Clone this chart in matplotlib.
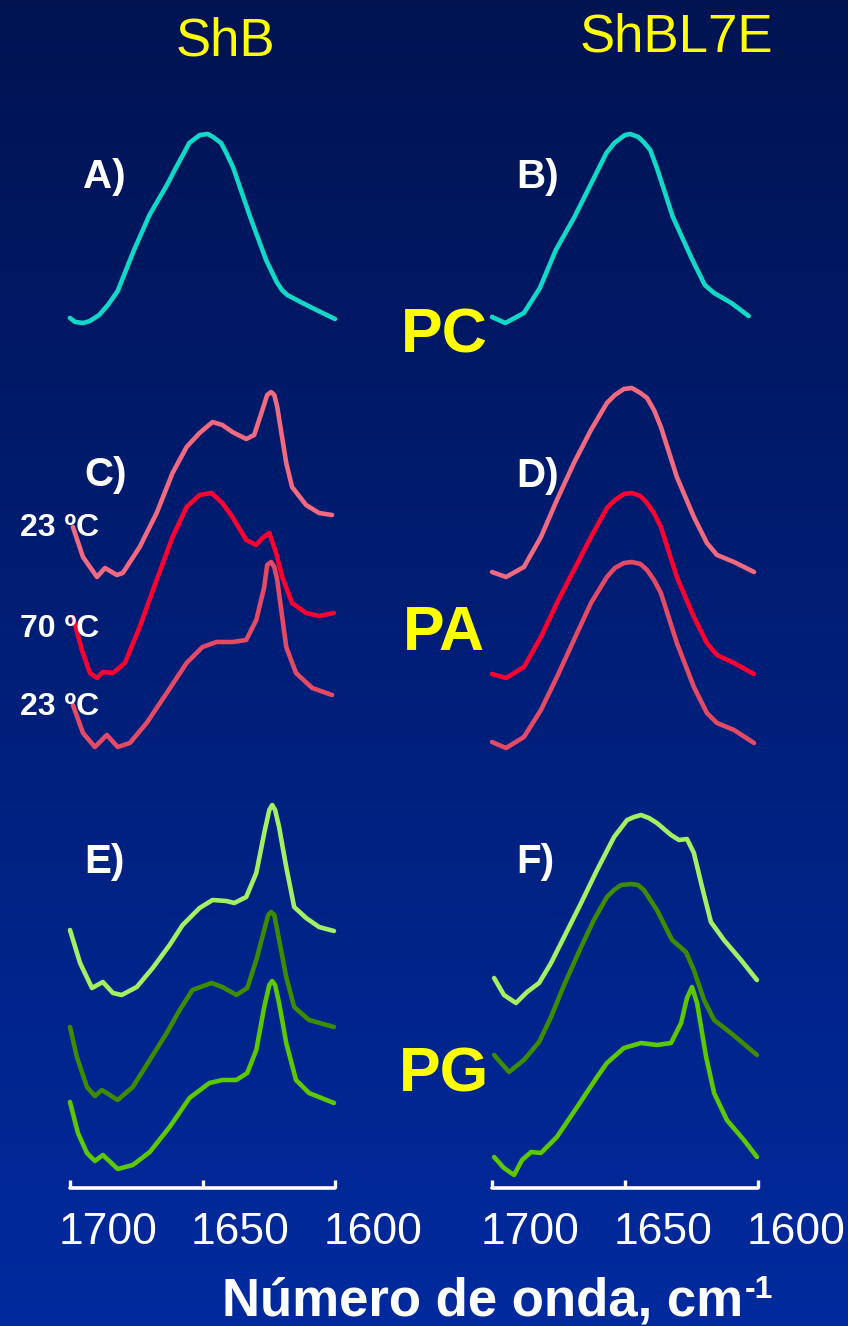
import numpy as np
import matplotlib
matplotlib.use("Agg")
import matplotlib.pyplot as plt
import matplotlib.transforms as mtransforms

W, H = 848, 1326

# --- datos (numero de onda, absorbancia relativa) ---
# A) ShB en PC
wn_A = [1700, 1698, 1695, 1692.5, 1689, 1685.7, 1682, 1676, 1670, 1663, 1660.5, 1657, 1655, 1651, 1648,
        1646, 1643, 1641, 1638.5, 1632, 1626, 1622, 1620, 1618, 1613, 1607, 1600]
ab_A = [0.05, 0.01, 0, 0.02, 0.08, 0.18, 0.32, 0.72, 1.08, 1.40, 1.53, 1.70, 1.80, 1.88, 1.89,
        1.86, 1.80, 1.70, 1.56, 1.06, 0.63, 0.41, 0.33, 0.28, 0.21, 0.13, 0.04]
# B) ShBL7E en PC
wn_B = [1700, 1695, 1688, 1682, 1676, 1669, 1663, 1657, 1654, 1650, 1648, 1645, 1643, 1640.5, 1638,
        1632, 1625, 1620, 1616.5, 1610, 1603.5]
ab_B = [0.06, 0, 0.10, 0.35, 0.73, 1.06, 1.38, 1.70, 1.80, 1.88, 1.89, 1.86, 1.81, 1.73, 1.55,
        1.06, 0.65, 0.38, 0.30, 0.20, 0.07]

# C) ShB en PA: 23 C, 70 C, 23 C
wn_C1 = [1698.9, 1695.1, 1689.8, 1686.8, 1682.3, 1680.1, 1673.7, 1667.3, 1661.3, 1656.0, 1651.1, 1646.2,
         1642.5, 1638.7, 1633.5, 1630.5, 1627.4, 1625.6, 1624.1, 1622.9, 1621.8, 1618.4, 1616.2, 1610.9,
         1606.0, 1601.1]
ab_C1 = [0.50, 0.20, 0, 0.09, 0.02, 0.04, 0.30, 0.64, 1.04, 1.30, 1.44, 1.55,
         1.52, 1.45, 1.38, 1.42, 1.67, 1.82, 1.85, 1.82, 1.70, 1.14, 0.90, 0.72,
         0.64, 0.62]
wn_C2 = [1698.9, 1695.5, 1692.5, 1689.8, 1687.6, 1683.8, 1679.3, 1673.7, 1667.3, 1661.3, 1656.0, 1651.1,
         1646.6, 1642.5, 1638.7, 1633.5, 1629.7, 1627.4, 1624.8, 1622.2, 1619.9, 1616.2, 1610.9, 1606.0,
         1600.4]
ab_C2 = [0.61, 0.28, 0.05, 0, 0.06, 0.05, 0.15, 0.51, 0.98, 1.41, 1.71, 1.83,
         1.85, 1.75, 1.61, 1.38, 1.33, 1.40, 1.45, 1.25, 1.01, 0.75, 0.65, 0.62,
         0.65]
wn_C3 = [1698.9, 1695.1, 1690.6, 1686.1, 1682.0, 1677.4, 1671.1, 1663.5, 1656.0, 1650.0, 1644.7, 1638.7,
         1633.5, 1629.7, 1626.7, 1625.6, 1624.1, 1622.9, 1621.8, 1618.4, 1614.7, 1608.6, 1601.1]
ab_C3 = [0.42, 0.14, 0, 0.12, 0, 0.04, 0.24, 0.54, 0.84, 1.00, 1.05, 1.05,
         1.07, 1.27, 1.60, 1.82, 1.85, 1.80, 1.67, 1.00, 0.74, 0.59, 0.52]

# D) ShBL7E en PA
wn_D = [1700, 1694.7, 1688.0, 1681.6, 1675.6, 1669.2, 1662.8, 1656.8, 1653.8, 1650.4, 1647.4, 1644.2,
        1641.7, 1639.1, 1636.5, 1630.5, 1624.1, 1619.2, 1615.4, 1609.0, 1601.5]
ab_D1 = [0.05, 0, 0.10, 0.40, 0.77, 1.14, 1.47, 1.74, 1.82, 1.88, 1.89, 1.84,
         1.79, 1.67, 1.50, 1.00, 0.60, 0.34, 0.22, 0.15, 0.05]
ab_D2 = [0.04, 0, 0.11, 0.41, 0.75, 1.08, 1.41, 1.70, 1.78, 1.84, 1.85, 1.82,
         1.75, 1.65, 1.51, 1.01, 0.61, 0.35, 0.23, 0.15, 0.04]
ab_D3 = [0.06, 0, 0.11, 0.38, 0.71, 1.08, 1.45, 1.71, 1.80, 1.85, 1.86, 1.84,
         1.78, 1.68, 1.55, 1.05, 0.61, 0.35, 0.25, 0.18, 0.05]

# E) ShB en PG
wn_E1 = [1700, 1696.2, 1691.7, 1687.6, 1683.8, 1680.5, 1674.8, 1668.8, 1662.4, 1657.5, 1651.1, 1646.2,
         1641.0, 1638.0, 1633.5, 1629.7, 1626.7, 1624.8, 1623.7, 1622.6, 1621.1, 1618.4, 1615.4, 1610.9,
         1606.0, 1600.4]
ab_E1 = [0.65, 0.32, 0.07, 0.13, 0.02, 0, 0.08, 0.27, 0.50, 0.70, 0.87, 0.95,
         0.94, 0.92, 0.98, 1.22, 1.62, 1.85, 1.90, 1.85, 1.68, 1.28, 0.88, 0.77,
         0.68, 0.64]
wn_E2 = [1700, 1697.4, 1693.6, 1690.6, 1688.0, 1682.0, 1676.3, 1669.9, 1663.5, 1658.6, 1653.8, 1646.6,
         1642.5, 1637.2, 1633.1, 1629.7, 1626.7, 1625.2, 1624.1, 1622.9, 1621.8, 1618.4, 1615.4, 1609.8,
         1600.4]
ab_E2 = [0.73, 0.43, 0.13, 0.04, 0.10, 0, 0.13, 0.40, 0.67, 0.90, 1.10, 1.17,
         1.13, 1.05, 1.12, 1.40, 1.70, 1.85, 1.88, 1.85, 1.70, 1.23, 0.93, 0.80,
         0.73]
wn_E3 = [1700, 1697.0, 1693.6, 1690.6, 1687.6, 1682.0, 1676.3, 1669.9, 1662.4, 1654.9, 1647.4, 1642.5,
         1637.2, 1633.1, 1629.7, 1626.7, 1624.8, 1623.7, 1622.6, 1621.1, 1618.4, 1614.7, 1609.8, 1600.4]
ab_E3 = [0.67, 0.36, 0.16, 0.08, 0.14, 0, 0.04, 0.17, 0.42, 0.71, 0.86, 0.89,
         0.89, 0.96, 1.19, 1.62, 1.84, 1.88, 1.84, 1.66, 1.26, 0.89, 0.76, 0.66]

# F) ShBL7E en PG
wn_F1 = [1699.2, 1695.5, 1691.0, 1686.8, 1682.3, 1677.8, 1672.9, 1666.5, 1660.5, 1654.1, 1649.2, 1646.6,
         1644.0, 1641.0, 1638.0, 1632.7, 1629.7, 1626.7, 1624.1, 1621.4, 1617.7, 1612.8, 1606.4, 1600.4]
ab_F1 = [0.25, 0.08, 0, 0.11, 0.20, 0.40, 0.66, 1.00, 1.33, 1.66, 1.83, 1.86,
         1.88, 1.85, 1.80, 1.68, 1.63, 1.64, 1.50, 1.20, 0.81, 0.63, 0.43, 0.23]
wn_F2 = [1699.2, 1693.6, 1688.0, 1682.3, 1677.8, 1672.9, 1666.5, 1661.7, 1656.8, 1654.1, 1651.5, 1647.7,
         1645.1, 1642.9, 1638.0, 1632.3, 1627.1, 1624.1, 1620.3, 1616.5, 1610.2, 1600.4]
ab_F2 = [0.17, 0, 0.12, 0.30, 0.55, 0.87, 1.25, 1.52, 1.75, 1.82, 1.87, 1.88,
         1.87, 1.82, 1.62, 1.32, 1.20, 1.02, 0.72, 0.52, 0.39, 0.17]
wn_F3 = [1699.2, 1695.5, 1691.7, 1688.7, 1685.3, 1681.6, 1675.6, 1668.0, 1660.5, 1656.8, 1650.4, 1644.0,
         1638.0, 1632.7, 1628.9, 1626.7, 1624.8, 1622.9, 1619.5, 1616.5, 1611.7, 1605.3, 1600.4]
ab_F3 = [0.18, 0.07, 0, 0.15, 0.23, 0.22, 0.38, 0.68, 0.98, 1.12, 1.27, 1.32,
         1.30, 1.32, 1.52, 1.77, 1.88, 1.72, 1.18, 0.82, 0.55, 0.35, 0.18]

ticks = [1700, 1650, 1600]
tick_labels = ["1700", "1650", "1600"]
temps = ["23 ºC", "70 ºC", "23 ºC"]

# colores
cian = "#12d8c8"
rosa = "#f26a80"
rojo = "#ff0030"
rosa2 = "#e44a64"
verde1 = "#a2f064"
verde2 = "#3c8c00"
verde3 = "#5cc800"

fig = plt.figure(figsize=(W / 100, H / 100), dpi=100)

def px(x, y):
    return x / W, 1 - y / H

# fondo degradado
bg = fig.add_axes([0, 0, 1, 1])
grad = np.linspace(0, 1, 256).reshape(-1, 1)
top = np.array([0.0, 0.075, 0.32])
bot = np.array([0.0, 0.165, 0.62])
img = top + (bot - top) * grad[:, :, None]
bg.imshow(img, aspect="auto", extent=[0, 1, 0, 1])
bg.axis("off")

def columna(x0, x1):
    ax = fig.add_axes([x0 / W, 1 - 1188 / H, (x1 - x0) / W, 1188 / H])
    ax.set_facecolor("none")
    ax.set_xlim(1700, 1600)
    ax.set_ylim(0, 11.88)
    for s in ["top", "left", "right"]:
        ax.spines[s].set_visible(False)
    ax.spines["bottom"].set_color("white")
    ax.spines["bottom"].set_linewidth(2.6)
    ax.spines["bottom"].set_capstyle("round")
    ax.set_yticks([])
    ax.set_xticks(ticks)
    ax.set_xticklabels(tick_labels, fontsize=32, color="white", family="Liberation Sans")
    ax.tick_params(axis="x", direction="in", length=5.5, width=2.4, color="white", pad=17)
    off = mtransforms.ScaledTranslation(0.38, 0, fig.dpi_scale_trans)
    for lab in ax.get_xticklabels():
        lab.set_transform(lab.get_transform() + off)
    return ax

axL = columna(70, 335)
axR = columna(492, 758)

def curva(ax, wn, ab, base, color):
    ax.plot(wn, np.array(ab) + base, color=color, lw=3.3, solid_capstyle="round",
            solid_joinstyle="round", clip_on=False)

# PC
curva(axL, wn_A, ab_A, 8.65, cian)
curva(axR, wn_B, ab_B, 8.65, cian)
# PA
curva(axL, wn_C1, ab_C1, 6.11, rosa)
curva(axL, wn_C2, ab_C2, 5.10, rojo)
curva(axL, wn_C3, ab_C3, 4.41, rosa2)
curva(axR, wn_D, ab_D1, 6.11, rosa)
curva(axR, wn_D, ab_D2, 5.10, rojo)
curva(axR, wn_D, ab_D3, 4.40, rosa2)
# PG
curva(axL, wn_E1, ab_E1, 1.93, verde1)
curva(axL, wn_E2, ab_E2, 0.88, verde2)
curva(axL, wn_E3, ab_E3, 0.19, verde3)
curva(axR, wn_F1, ab_F1, 1.85, verde1)
curva(axR, wn_F2, ab_F2, 1.16, verde2)
curva(axR, wn_F3, ab_F3, 0.13, verde3)

# textos
amarillo = "#ffff00"
fig.text(*px(176, 55), "ShB", color=amarillo, fontsize=38, family="Liberation Sans", va="baseline")
fig.text(*px(580, 51), "ShBL7E", color=amarillo, fontsize=38, family="Liberation Sans", va="baseline")

for lab, x, y in [("A)", 83, 188), ("B)", 516, 188), ("C)", 84, 486),
                  ("D)", 516, 487), ("E)", 84, 873), ("F)", 516, 873)]:
    fig.text(*px(x, y), lab, color="white", fontsize=29, fontweight="bold",
             family="Liberation Sans", va="baseline")

for lab, y in zip(["PC", "PA", "PG"], [353, 650, 1092]):
    fig.text(*px(444, y), lab, color=amarillo, fontsize=45, fontweight="bold",
             family="Liberation Sans", va="baseline", ha="center")

for lab, y in zip(temps, [536, 637, 715]):
    fig.text(*px(20, y), lab, color="white", fontsize=23, fontweight="bold",
             family="Liberation Sans", va="baseline")

t = fig.text(*px(222, 1315), "Número de onda, cm", color="white", fontsize=38,
             fontweight="bold", family="Liberation Sans", va="baseline")
bg.annotate("-1", xy=(1, 1), xycoords=t, xytext=(1, 1), textcoords="offset points",
            color="white", fontsize=23, fontweight="bold", family="Liberation Sans",
            va="top", ha="left")

fig.savefig("out.png", dpi=100)
